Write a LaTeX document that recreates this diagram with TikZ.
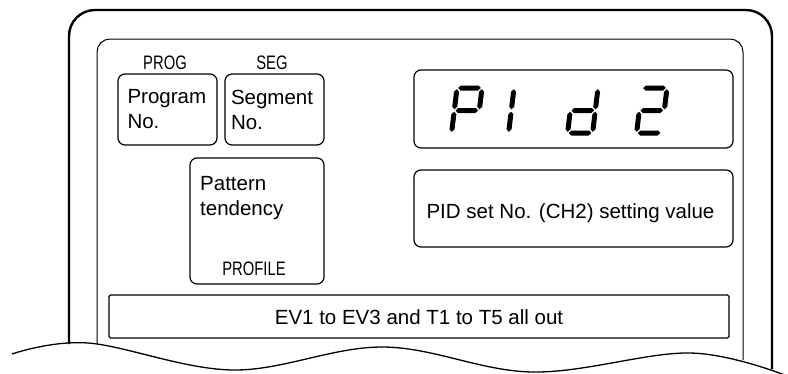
\documentclass[tikz,border=0pt]{standalone}
\usepackage{fontspec}
\setmainfont{Liberation Sans}
\newfontfamily\narrowfont[FakeStretch=0.76]{Liberation Sans}
\tikzset{
  panel box/.style={draw,rounded corners=7pt,line width=1.2pt,inner sep=0pt},
  label text/.style={font=\fontsize{20.5}{25}\selectfont,inner sep=0pt,align=left},
  tag text/.style={font=\narrowfont\fontsize{19.5}{22}\selectfont,inner sep=0pt},
}
% one segment of a seven segment digit (cell 25 wide, 45 high)
\newcommand{\hseg}[1]{\fill (1.2,#1) -- (3.7,#1-2.5) -- (21.3,#1-2.5) -- (23.8,#1) -- (21.3,#1+2.5) -- (3.7,#1+2.5) -- cycle;}
\newcommand{\vseg}[3]{\fill (#1,#2+1.2) -- (#1+2.5,#2+3.7) -- (#1+2.5,#3-3.7) -- (#1,#3-1.2) -- (#1-2.5,#3-3.7) -- (#1-2.5,#2+3.7) -- cycle;}
\def\sega{\hseg{0}}
\def\segg{\hseg{22.5}}
\def\segd{\hseg{45}}
\def\segf{\vseg{0}{0}{22.5}}
\def\sege{\vseg{0}{22.5}{45}}
\def\segb{\vseg{25}{0}{22.5}}
\def\segc{\vseg{25}{22.5}{45}}
\newcommand{\digitat}[2]{%
  \begin{scope}[shift={#1},xslant=0.12]
    \foreach \s in {#2}{\csname seg\s\endcsname}
  \end{scope}}

\begin{document}
\begin{tikzpicture}[x=1pt,y=-1pt]
  \useasboundingbox (0,0) rectangle (788,373);
  % case and inner panel
  \draw[line width=2.4pt,rounded corners=26pt] (69,344) -- (69,10) -- (772,10) -- (772,369);
  \draw[line width=1pt,rounded corners=13pt] (97,343.5) -- (97,39) -- (743,39) -- (743,360);
  % broken-off edge
  \draw[line width=1.3pt] plot[smooth,tension=0.6] coordinates
    {(12,354) (88,343) (233,370) (383,347) (532,372) (690,353) (790,377)};

  % left hand boxes
  \node[tag text,anchor=base] (progtag) at (165,69) {PROG};
  \node[tag text,anchor=base] (segtag) at (272,69) {SEG};
  \node[panel box,label text,minimum width=99pt,minimum height=71pt,text width=80pt] (progbox) at (167.5,109.5) {Program\\No.};
  \node[panel box,label text,minimum width=99pt,minimum height=71pt,text width=87pt] (segbox) at (274.5,109.5) {Segment\\No.};
  \node[panel box,minimum width=134pt,minimum height=126pt] (patbox) at (257,221) {};
  \node[label text,anchor=north west] (pattext) at (200,175.7) {Pattern\\tendency};
  \node[tag text,anchor=base] (proftag) at (254,275) {PROFILE};

  % display and its caption
  \node[panel box,minimum width=319pt,minimum height=78pt] (dispbox) at (573.5,109) {};
  \digitat{(457,88)}{a,b,e,f,g}
  \digitat{(514,88)}{e,f}
  \digitat{(573,88)}{b,c,d,e,g}
  \digitat{(642,88)}{a,b,g,e,d}
  \node[panel box,minimum width=319pt,minimum height=77pt] (pidbox) at (573.5,208.5) {};
  \node[label text,anchor=base] (pidtext) at (570.5,218.3) {PID set No. (CH2) setting value};

  % output bar
  \node[draw,line width=1.2pt,rounded corners=1.5pt,minimum width=620pt,minimum height=43pt] (outbar) at (419,316.5) {};
  \node[label text,anchor=base] (outtext) at (419,324.3) {EV1 to EV3 and T1 to T5 all out};
\end{tikzpicture}
\end{document}
